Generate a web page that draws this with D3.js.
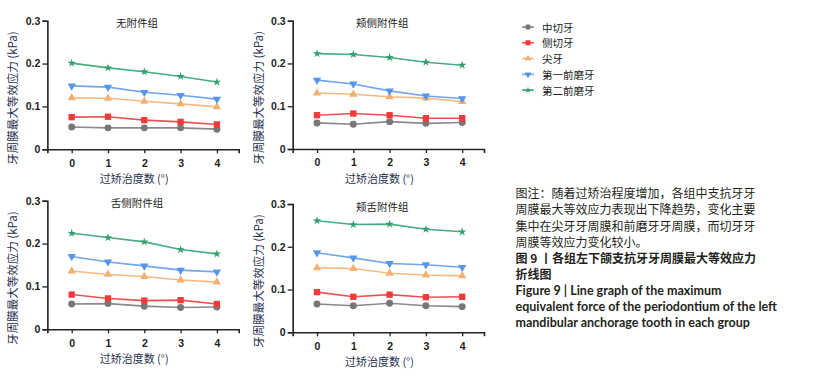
<!DOCTYPE html>
<html>
<head>
<meta charset="utf-8">
<script src="https://cdn.jsdelivr.net/npm/d3@7"></script>
<style>
  body { margin: 0; background: #fff; }
  svg text { font-family: "Noto Sans CJK SC", "Noto Sans", sans-serif; }
</style>
</head>
<body>
<div id="chart"></div>
<script>
// Data
const degrees = [0, 1, 2, 3, 4];
const groupTitles = ["无附件组", "颊侧附件组", "舌侧附件组", "颊舌附件组"];
const seriesNames = ["中切牙", "侧切牙", "尖牙", "第一前磨牙", "第二前磨牙"];
const yTicks = [0, 0.1, 0.2, 0.3];

// values per group, one array per tooth (same order as seriesNames)
const noAttach = [
    [0.052, 0.050, 0.050, 0.050, 0.047],
    [0.075, 0.076, 0.068, 0.064, 0.058],
    [0.120, 0.119, 0.112, 0.106, 0.099],
    [0.148, 0.145, 0.133, 0.126, 0.117],
    [0.201, 0.190, 0.181, 0.170, 0.157]
];
const buccalAttach = [
    [0.061, 0.058, 0.064, 0.060, 0.062],
    [0.079, 0.083, 0.079, 0.072, 0.072],
    [0.131, 0.128, 0.122, 0.119, 0.111],
    [0.161, 0.152, 0.136, 0.124, 0.118],
    [0.223, 0.221, 0.214, 0.203, 0.196]
];
const lingualAttach = [
    [0.059, 0.060, 0.054, 0.051, 0.052],
    [0.081, 0.072, 0.067, 0.068, 0.059],
    [0.136, 0.128, 0.123, 0.115, 0.110],
    [0.170, 0.157, 0.148, 0.138, 0.134],
    [0.224, 0.214, 0.204, 0.186, 0.176]
];
const bothAttach = [
    [0.066, 0.062, 0.068, 0.062, 0.060],
    [0.094, 0.083, 0.088, 0.082, 0.083],
    [0.151, 0.149, 0.138, 0.134, 0.132],
    [0.186, 0.174, 0.161, 0.158, 0.152],
    [0.261, 0.252, 0.253, 0.241, 0.235]
];
const groupValues = [noAttach, buccalAttach, lingualAttach, bothAttach];

const captionCn = [
    "图注：随着过矫治程度增加，各组中支抗牙牙",
    "周膜最大等效应力表现出下降趋势，变化主要",
    "集中在尖牙牙周膜和前磨牙牙周膜，而切牙牙",
    "周膜等效应力变化较小。"
];
const captionTitle = ["图 9 丨各组左下颌支抗牙牙周膜最大等效应力", "折线图"];
const captionEn = [
    "Figure 9  |  Line graph of the maximum",
    "equivalent force of the periodontium of the left",
    "mandibular anchorage tooth in each group"
];

// styling
const lineColors = ["#8a8a8a", "#ee5050", "#f4bb80", "#6fa6ec", "#46ad80"];
const markColors = ["#777777", "#f03a3a", "#f2b170", "#5596ea", "#34a070"];
const symbols = [
    d3.symbol().type(d3.symbolCircle).size(38),
    d3.symbol().type(d3.symbolSquare).size(40),
    d3.symbol().type(d3.symbolTriangle).size(30),
    d3.symbol().type(d3.symbolTriangle).size(30),
    d3.symbol().type(d3.symbolStar).size(22)
];

const W = 817, H = 375;
const svg = d3.select("#chart").append("svg")
    .attr("width", W).attr("height", H);

// panel placement: x of tick "0", y of value 0 and value 0.3
const panels = [
    { x0: 71.7, yBottom: 149.3, yTop: 20.7 },
    { x0: 317, yBottom: 149, yTop: 20.7 },
    { x0: 71.7, yBottom: 329.3, yTop: 200.7 },
    { x0: 317, yBottom: 332.3, yTop: 204 }
];
const step = 36.3;

panels.forEach((p, gi) => {
    const x = d3.scaleLinear().domain([-0.67, 4.6]).range([p.x0 - 0.67 * step, p.x0 + 4.6 * step]);
    const y = d3.scaleLinear().domain([0, 0.3]).range([p.yBottom, p.yTop]);
    const g = svg.append("g");

    // y axis
    const yAxis = g.append("g")
        .attr("transform", `translate(${x(-0.67)},0)`)
        .call(d3.axisLeft(y).tickValues(yTicks).tickSize(5).tickPadding(2)
            .tickFormat(d => d === 0 ? "0" : d3.format(".1f")(d)));
    // x axis
    const xAxis = g.append("g")
        .attr("transform", `translate(0,${p.yBottom})`)
        .call(d3.axisBottom(x).tickValues(degrees).tickSize(4).tickPadding(6).tickFormat(d3.format("d")));

    [yAxis, xAxis].forEach(a => {
        a.select(".domain").attr("stroke", "#222").attr("stroke-width", 1.6);
        a.selectAll(".tick line").attr("stroke", "#222").attr("stroke-width", 1.3);
        a.selectAll(".tick text")
            .attr("fill", "#222")
            .style("font-family", "'Liberation Sans', Arial, sans-serif")
            .style("font-weight", "bold")
            .style("font-size", "10.5px");
    });

    // titles
    g.append("text")
        .attr("x", x(1.8)).attr("y", p.yTop + 2)
        .attr("text-anchor", "middle").attr("dominant-baseline", "central")
        .attr("fill", "#222").style("font-size", "10.5px")
        .text(groupTitles[gi]);

    g.append("text")
        .attr("x", x(1.72)).attr("y", p.yBottom + 29)
        .attr("text-anchor", "middle").attr("dominant-baseline", "central")
        .attr("fill", "#24304e").style("font-size", "11px")
        .text("过矫治度数 (°)");

    g.append("text")
        .attr("transform", `translate(${x(-0.67) - 35},${(p.yTop + p.yBottom) / 2 + 13}) rotate(-90)`)
        .attr("text-anchor", "middle").attr("dominant-baseline", "central")
        .attr("fill", "#24304e").style("font-size", "11.5px")
        .text("牙周膜最大等效应力 (kPa)");

    const line = d3.line().x((d, i) => x(degrees[i])).y(d => y(d));

    groupValues[gi].forEach((vals, si) => {
        g.append("path")
            .datum(vals)
            .attr("d", line)
            .attr("fill", "none")
            .attr("stroke", lineColors[si])
            .attr("stroke-width", 1.6);

        g.selectAll(null)
            .data(vals)
            .enter()
            .append("path")
            .attr("d", symbols[si])
            .attr("transform", (d, i) => `translate(${x(degrees[i])},${y(d)})` + (si === 3 ? " rotate(180)" : ""))
            .attr("fill", markColors[si]);
    });
});

// legend
const legend = svg.append("g").attr("transform", "translate(522,27)");
seriesNames.forEach((name, i) => {
    const row = legend.append("g").attr("transform", `translate(0,${i * 15.8})`);
    row.append("line").attr("x1", 0).attr("x2", 12).attr("y1", 0).attr("y2", 0)
        .attr("stroke", lineColors[i]).attr("stroke-width", 1.6);
    row.append("path").attr("d", symbols[i])
        .attr("transform", `translate(6,0)` + (i === 3 ? " rotate(180)" : "") + " scale(0.8)")
        .attr("fill", markColors[i]);
    row.append("text").attr("x", 20).attr("y", 0)
        .attr("dominant-baseline", "central")
        .attr("fill", "#222").style("font-size", "10.5px")
        .text(name);
});

// caption
const cap = svg.append("g").attr("transform", "translate(515.5,0)");
captionCn.forEach((t, i) => {
    cap.append("text").attr("x", 0).attr("y", 192.3 + i * 16.4)
        .attr("dominant-baseline", "central")
        .attr("fill", "#231f20").style("font-size", "12px")
        .text(t);
});
captionTitle.forEach((t, i) => {
    cap.append("text").attr("x", 0).attr("y", 257.7 + i * 16)
        .attr("dominant-baseline", "central")
        .attr("fill", "#231f20").style("font-size", "12px").style("font-weight", "bold")
        .text(t);
});
captionEn.forEach((t, i) => {
    cap.append("text").attr("x", 0).attr("y", 290.3 + i * 16)
        .attr("dominant-baseline", "central")
        .attr("fill", "#231f20")
        .style("font-family", "Lato, 'Open Sans', sans-serif")
        .style("font-size", "12.5px").style("font-weight", "bold")
        .text(t);
});
</script>
</body>
</html>
